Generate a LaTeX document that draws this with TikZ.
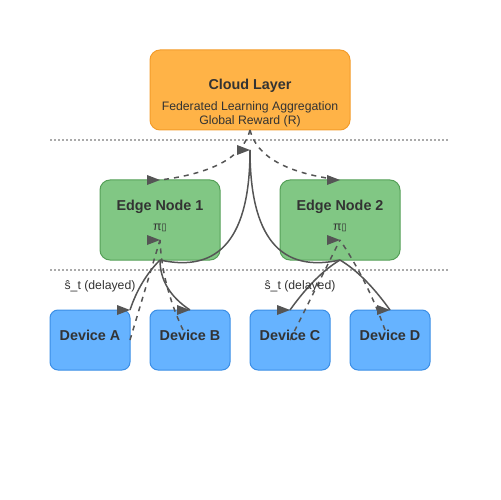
\documentclass[tikz,border=0pt]{standalone}
\usepackage{fontspec}
\setmainfont{Liberation Sans}
\newfontfamily\glyphfont{DejaVu Sans}
\definecolor{cloudfill}{HTML}{FFB347}
\definecolor{cloudline}{HTML}{F39C2B}
\definecolor{edgefill}{HTML}{81C784}
\definecolor{edgeline}{HTML}{55A058}
\definecolor{devfill}{HTML}{66B3FF}
\definecolor{devline}{HTML}{3A8EE6}
\definecolor{linkcol}{HTML}{555555}
\definecolor{textcol}{HTML}{333333}
\definecolor{sepcol}{HTML}{AAAAAA}
\tikzset{
  box/.style={draw, line width=1bp, inner sep=0pt, outer sep=0pt},
  cloudbox/.style={box, fill=cloudfill, draw=cloudline, rounded corners=10bp,
    minimum width=200bp, minimum height=80bp},
  edgebox/.style={box, fill=edgefill, draw=edgeline, rounded corners=10bp,
    minimum width=120bp, minimum height=80bp},
  devbox/.style={box, fill=devfill, draw=devline, rounded corners=8bp,
    minimum width=80bp, minimum height=60bp},
  link/.style={draw=linkcol, line width=1.5bp},
  dashlink/.style={link, dash pattern=on 5bp off 5bp},
  sepline/.style={draw=sepcol, line width=1.2bp, dash pattern=on 2bp off 2bp},
  title/.style={anchor=base, inner sep=0pt, text=textcol,
    font=\bfseries\fontsize{14.4}{16}\selectfont},
  small/.style={anchor=base, inner sep=0pt, text=textcol,
    font=\fontsize{12.3}{14}\selectfont},
}
\newcommand{\tipmark}[1]{\fill[linkcol] (#1) -- ++(-13,5) -- ++(0,-10) -- cycle;}
\begin{document}
\begin{tikzpicture}[x=1bp,y=-1bp]
  \useasboundingbox (0,0) rectangle (500,500);
%%
  % Layer separators
  \draw [sepline] (50,140) -- (450,140);
  \draw [sepline] (50,270) -- (450,270);
  % Node: Cloud
  \node [cloudbox] (cloud) at (250,90) {};
  % Node: Edge1, Edge2
  \node [edgebox] (edge1) at (160,220) {};
  \node [edgebox] (edge2) at (340,220) {};
  % Node: Devices
  \node [devbox] (devA) at (90,340) {};
  \node [devbox] (devB) at (190,340) {};
  \node [devbox] (devC) at (290,340) {};
  \node [devbox] (devD) at (390,340) {};
  % Connector ends
  \coordinate (cloudin) at (250,150);
  \coordinate (edge1in) at (160,240);
  \coordinate (edge2in) at (340,240);
  \coordinate (devBout) at (183,330);
  \coordinate (devDout) at (385,330);
  % Edge: Cloud -> Edge1
  \draw [dashlink] (cloud.south) .. controls (243.3,156.7) and (213.3,173.3) .. (edge1.north);
  % Edge: Cloud -> Edge2
  \draw [dashlink] (cloud.south) .. controls (256.7,156.7) and (286.7,173.3) .. (edge2.north);
  % Edge: Edge1 -> Cloud
  \draw [link] (edge1.south) .. controls (220,273.3) and (250,236.7) .. (cloudin);
  % Edge: Edge2 -> Cloud
  \draw [link] (edge2.south) .. controls (280,273.3) and (250,236.7) .. (cloudin);
  % Edge: Edge1 -> DeviceA
  \draw [link] (edge1.south) .. controls (146.7,273.3) and (136.7,290) .. (devA.north east);
  % Edge: Edge1 -> DeviceB
  \draw [link] (edge1.south) .. controls (160,280) and (170,296.7) .. (devB.north);
  % Edge: Edge2 -> DeviceC
  \draw [link] (edge2.south) .. controls (323.3,270) and (306.7,286.7) .. (devC.north);
  % Edge: Edge2 -> DeviceD
  \draw [link] (edge2.south) .. controls (356.7,270) and (373.3,286.7) .. (devD.north);
  % Edge: DeviceA -> Edge1
  \draw [dashlink] (devA.east) -- (edge1in);
  % Edge: DeviceB -> Edge1
  \draw [dashlink] (devBout) .. controls (169,300) and (161.3,270) .. (edge1in);
  % Edge: DeviceC -> Edge2
  \draw [dashlink] (devC.center) -- (edge2in);
  % Edge: DeviceD -> Edge2
  \draw [dashlink] (devDout) .. controls (373.7,298) and (358.7,268) .. (edge2in);
  % Markers
  \tipmark{edge1.north}
  \tipmark{edge2.north}
  \tipmark{cloudin}
  \tipmark{edge1in}
  \tipmark{edge2in}
  \tipmark{devA.north east}
  \tipmark{devB.north}
  \tipmark{devC.north}
  \tipmark{devD.north}
  % Texts
  \node [title] (cloudtitle) at (250,90) {Cloud Layer};
  \node [small] (cloudtask) at (250,110.5) {Federated Learning Aggregation};
  \node [small] (cloudreward) at (250,125) {Global Reward (R)};
  \node [title] (edge1title) at (160,210) {Edge Node 1};
  \node [small] (edge1policy) at (160,230) {π{\glyphfont\fontsize{10}{12}\selectfont ▯}};
  \node [title] (edge2title) at (340,210) {Edge Node 2};
  \node [small] (edge2policy) at (340,230) {π{\glyphfont\fontsize{10}{12}\selectfont ▯}};
  \node [title] (devAtitle) at (90,340) {Device A};
  \node [title] (devBtitle) at (190,340) {Device B};
  \node [title] (devCtitle) at (290,340) {Device C};
  \node [title] (devDtitle) at (390,340) {Device D};
  \node [small] (stateA) at (100,289) {ŝ\_t (delayed)};
  \node [small] (stateC) at (300,289) {ŝ\_t (delayed)};
%
\end{tikzpicture}
\end{document}
